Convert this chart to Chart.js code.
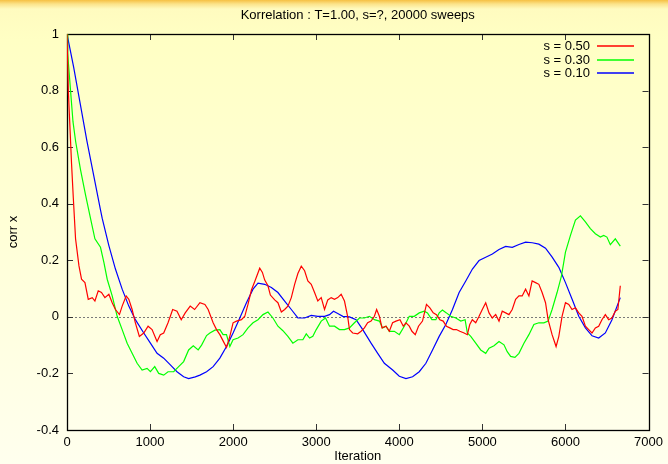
<!DOCTYPE html>
<html lang="de">
<head>
  <meta charset="UTF-8">
  <title>Korrelation</title>
  <script src="https://cdn.jsdelivr.net/npm/chart.js"></script>
  <style>
    html, body { margin: 0; padding: 0; overflow: hidden; }
    body {
      width: 668px; height: 464px;
      background: linear-gradient(180deg, #f6c043 0px, #fbe38a 4px, #fffbbf 9px, #ffffc4 40px, #ffffee 464px);
    }
    canvas { display: block; }
  </style>
</head>
<body>
  <canvas id="grafico" width="668" height="464"></canvas>

  <script>
    // Daten
    const titel = 'Korrelation : T=1.00, s=?, 20000 sweeps';
    const serienNamen = ['s = 0.50', 's = 0.30', 's = 0.10'];
    const serienFarben = ['#ff0000', '#00ff00', '#0000ff'];
    const xTicks = [0, 1000, 2000, 3000, 4000, 5000, 6000, 7000];
    const yTicks = [-0.4, -0.2, 0, 0.2, 0.4, 0.6, 0.8, 1];

    const iterRot = [0,16,31,55,76,103,144,175,216,256,304,336,376,415,456,504,544,583,631,664,712,744,784,823,871,924,976,1024,1084,1123,1164,1216,1272,1324,1375,1423,1483,1536,1600,1660,1699,1759,1800,1840,1879,1920,1960,1999,2040,2100,2140,2179,2220,2260,2320,2352,2380,2419,2448,2500,2539,2580,2620,2659,2700,2740,2779,2820,2860,2899,2940,2980,3019,3060,3100,3139,3180,3220,3259,3300,3340,3379,3400,3439,3499,3540,3580,3619,3660,3700,3727,3760,3792,3840,3880,3919,3960,4008,4048,4080,4120,4152,4192,4231,4279,4327,4368,4408,4447,4488,4528,4567,4608,4648,4687,4728,4780,4819,4848,4879,4920,4960,4999,5040,5080,5119,5160,5200,5239,5280,5320,5359,5400,5440,5479,5520,5560,5599,5640,5680,5719,5760,5791,5839,5887,5920,5959,6000,6040,6079,6120,6160,6199,6240,6280,6319,6360,6400,6439,6480,6520,6559,6600,6631,6660];
    const korrRot = [1.0,0.80,0.70,0.54,0.42,0.276,0.18,0.133,0.121,0.062,0.068,0.056,0.092,0.086,0.068,0.08,0.05,0.026,0.008,0.038,0.074,0.062,0.026,-0.021,-0.069,-0.057,-0.033,-0.045,-0.087,-0.063,-0.057,-0.021,0.026,0.02,-0.01,0.014,0.038,0.026,0.05,0.044,0.026,-0.021,-0.045,-0.063,-0.085,-0.108,-0.069,-0.021,-0.015,-0.01,0.002,0.045,0.095,0.125,0.172,0.157,0.13,0.11,0.077,0.06,0.05,0.017,0.026,0.038,0.068,0.115,0.153,0.179,0.163,0.127,0.115,0.086,0.056,0.068,0.026,0.06,0.068,0.062,0.068,0.08,0.056,0.0,-0.045,-0.057,-0.06,-0.051,-0.039,-0.021,-0.015,0.002,0.026,0.002,-0.039,-0.033,-0.051,-0.021,-0.015,-0.01,-0.033,-0.021,-0.033,-0.051,-0.063,-0.033,-0.015,0.044,0.032,0.014,0.008,-0.01,-0.015,-0.033,-0.039,-0.045,-0.045,-0.051,-0.057,-0.063,-0.027,-0.01,-0.021,0.002,0.026,0.05,0.014,-0.004,0.008,-0.015,0.02,0.014,0.008,0.026,0.062,0.074,0.074,0.098,0.074,0.127,0.121,0.115,0.086,0.05,-0.01,-0.063,-0.105,-0.069,0.002,0.05,0.044,0.026,0.032,0.014,0.002,-0.033,-0.045,-0.057,-0.039,-0.033,-0.01,0.008,-0.01,-0.004,0.02,0.026,0.11];

    const iterGruen = [0,8,40,72,104,163,223,283,336,403,444,484,544,604,664,724,784,844,904,964,1004,1056,1104,1164,1216,1284,1344,1404,1464,1520,1579,1620,1680,1720,1780,1840,1879,1920,1960,1999,2059,2119,2179,2239,2299,2359,2419,2479,2539,2599,2659,2719,2779,2839,2880,2920,2959,3000,3060,3112,3160,3220,3280,3340,3400,3460,3520,3580,3640,3700,3760,3799,3840,3880,3940,4000,4060,4120,4180,4240,4300,4339,4392,4440,4480,4519,4567,4620,4680,4740,4792,4819,4860,4920,4980,5040,5080,5140,5200,5260,5299,5340,5392,5440,5500,5560,5620,5680,5740,5791,5839,5899,5952,6000,6060,6120,6180,6240,6300,6360,6420,6460,6499,6540,6600,6660];
    const korrGruen = [1.0,0.93,0.81,0.69,0.62,0.52,0.431,0.348,0.276,0.246,0.193,0.133,0.074,0.002,-0.045,-0.093,-0.129,-0.164,-0.188,-0.182,-0.194,-0.176,-0.2,-0.206,-0.194,-0.194,-0.176,-0.158,-0.117,-0.102,-0.117,-0.1,-0.066,-0.057,-0.047,-0.045,-0.063,-0.063,-0.105,-0.081,-0.075,-0.063,-0.039,-0.021,-0.01,0.008,0.017,-0.004,-0.033,-0.049,-0.069,-0.093,-0.081,-0.081,-0.06,-0.075,-0.069,-0.045,-0.015,-0.004,-0.033,-0.033,-0.045,-0.045,-0.039,-0.021,-0.004,-0.004,0.002,-0.01,-0.015,-0.039,-0.033,-0.051,-0.051,-0.063,-0.033,0.002,0.002,0.014,0.02,0.014,-0.01,-0.01,0.014,0.024,0.014,0.002,-0.004,-0.015,-0.01,-0.057,-0.069,-0.093,-0.117,-0.129,-0.111,-0.102,-0.087,-0.099,-0.123,-0.14,-0.143,-0.129,-0.093,-0.063,-0.027,-0.021,-0.021,-0.015,0.026,0.086,0.145,0.229,0.288,0.342,0.357,0.336,0.312,0.294,0.282,0.288,0.282,0.255,0.276,0.25];

    const iterBlau = [0,80,160,240,320,400,424,504,583,664,744,823,924,1004,1084,1164,1244,1324,1404,1464,1544,1600,1680,1759,1840,1920,1999,2080,2160,2239,2299,2380,2460,2539,2620,2700,2779,2860,2940,3019,3100,3160,3208,3259,3320,3400,3480,3560,3660,3740,3820,3920,4000,4080,4160,4240,4320,4400,4480,4560,4640,4720,4800,4880,4960,5040,5120,5200,5280,5360,5440,5520,5600,5680,5760,5840,5920,6000,6080,6160,6240,6320,6400,6480,6560,6660];
    const korrBlau = [1.0,0.883,0.752,0.621,0.502,0.383,0.348,0.252,0.169,0.098,0.038,-0.01,-0.057,-0.093,-0.129,-0.146,-0.17,-0.194,-0.212,-0.218,-0.212,-0.206,-0.194,-0.176,-0.146,-0.105,-0.057,-0.004,0.05,0.098,0.119,0.115,0.104,0.086,0.056,0.026,-0.004,-0.004,0.005,0.002,0.002,0.008,0.02,0.012,0.002,0.0,-0.01,-0.045,-0.093,-0.129,-0.164,-0.188,-0.21,-0.218,-0.212,-0.194,-0.164,-0.117,-0.069,-0.027,0.026,0.086,0.127,0.169,0.199,0.211,0.222,0.238,0.249,0.246,0.256,0.264,0.262,0.257,0.243,0.211,0.175,0.121,0.062,0.002,-0.039,-0.067,-0.075,-0.057,-0.01,0.068];

    const schrift = '"Liberation Sans", Arial, Helvetica, sans-serif';

    function punkte(iter, werte) {
      return iter.map((t, i) => ({ x: t, y: werte[i] }));
    }

    const serien = [punkte(iterRot, korrRot), punkte(iterGruen, korrGruen), punkte(iterBlau, korrBlau)];
    const datasets = serien.map((daten, i) => ({
      label: serienNamen[i],
      data: daten,
      borderColor: serienFarben[i],
      borderWidth: 1.2,
      pointRadius: 0,
      tension: 0,
      fill: false
    }));

    // Rahmen, Ticks nach innen, Nulllinie, Titel und Legende im gnuplot-Stil
    const gnuplotStil = {
      id: 'gnuplotStil',
      beforeDatasetsDraw(chart) {
        const { ctx, chartArea: a, scales: { x, y } } = chart;
        ctx.save();
        // Nulllinie
        const y0 = Math.round(y.getPixelForValue(0)) + 0.5;
        ctx.strokeStyle = '#7a7a7a';
        ctx.lineWidth = 1;
        ctx.setLineDash([2, 2]);
        ctx.beginPath();
        ctx.moveTo(a.left, y0);
        ctx.lineTo(a.right, y0);
        ctx.stroke();
        ctx.setLineDash([]);
        // Ticks
        ctx.strokeStyle = '#333';
        ctx.beginPath();
        xTicks.slice(1, -1).forEach(t => {
          const px = Math.round(x.getPixelForValue(t)) + 0.5;
          ctx.moveTo(px, a.bottom); ctx.lineTo(px, a.bottom - 6);
          ctx.moveTo(px, a.top); ctx.lineTo(px, a.top + 6);
        });
        yTicks.slice(1, -1).forEach(v => {
          const py = Math.round(y.getPixelForValue(v)) + 0.5;
          ctx.moveTo(a.left, py); ctx.lineTo(a.left + 6, py);
          ctx.moveTo(a.right, py); ctx.lineTo(a.right - 6, py);
        });
        ctx.stroke();
        // Rahmen
        ctx.strokeStyle = '#000';
        ctx.lineWidth = 1.3;
        ctx.strokeRect(Math.round(a.left) + 0.5, Math.round(a.top) + 0.5,
          Math.round(a.right - a.left), Math.round(a.bottom - a.top));
        ctx.restore();
      },
      afterDraw(chart) {
        const { ctx, chartArea: a } = chart;
        ctx.save();
        ctx.fillStyle = '#000';
        ctx.font = '13px ' + schrift;
        ctx.textBaseline = 'middle';
        // Titel
        ctx.textAlign = 'center';
        ctx.fillText(titel, (a.left + a.right) / 2, 15);
        // Legende
        ctx.textAlign = 'right';
        chart.data.datasets.forEach((ds, i) => {
          const yy = Math.round(46 + i * 13.5);
          ctx.fillStyle = '#000';
          ctx.fillText(ds.label, 590, yy);
          ctx.strokeStyle = ds.borderColor;
          ctx.lineWidth = 1.5;
          ctx.beginPath();
          ctx.moveTo(597, yy);
          ctx.lineTo(634, yy);
          ctx.stroke();
        });
        ctx.restore();
      }
    };

    const ctx = document.getElementById('grafico').getContext('2d');
    new Chart(ctx, {
      type: 'line',
      data: { datasets: datasets },
      plugins: [gnuplotStil],
      options: {
        responsive: false,
        animation: false,
        layout: { padding: { top: 34, right: 19, left: 0, bottom: 0 } },
        plugins: {
          legend: { display: false },
          title: { display: false },
          tooltip: { enabled: false }
        },
        scales: {
          x: {
            type: 'linear',
            min: 0,
            max: 7000,
            afterBuildTicks: s => { s.ticks = xTicks.map(v => ({ value: v })); },
            ticks: {
              padding: 5, color: '#000', font: { family: schrift, size: 13 }, maxRotation: 0,
              callback: v => String(v)
            },
            grid: { display: false, drawTicks: false },
            border: { display: false },
            title: { display: true, text: 'Iteration', color: '#000', font: { family: schrift, size: 13 }, padding: { top: 0, bottom: 0 } },
            afterFit: s => { s.height = 34; }
          },
          y: {
            type: 'linear',
            min: -0.4,
            max: 1,
            afterBuildTicks: s => { s.ticks = yTicks.map(v => ({ value: v })); },
            ticks: {
              padding: 8, color: '#000', font: { family: schrift, size: 13 },
              callback: v => String(Math.round(v * 10) / 10)
            },
            grid: { display: false, drawTicks: false },
            border: { display: false },
            title: { display: true, text: 'corr x', color: '#000', font: { family: schrift, size: 13 }, padding: { top: 6, bottom: 0 } },
            afterFit: s => { s.width = 67; }
          }
        }
      }
    });
  </script>
</body>
</html>
